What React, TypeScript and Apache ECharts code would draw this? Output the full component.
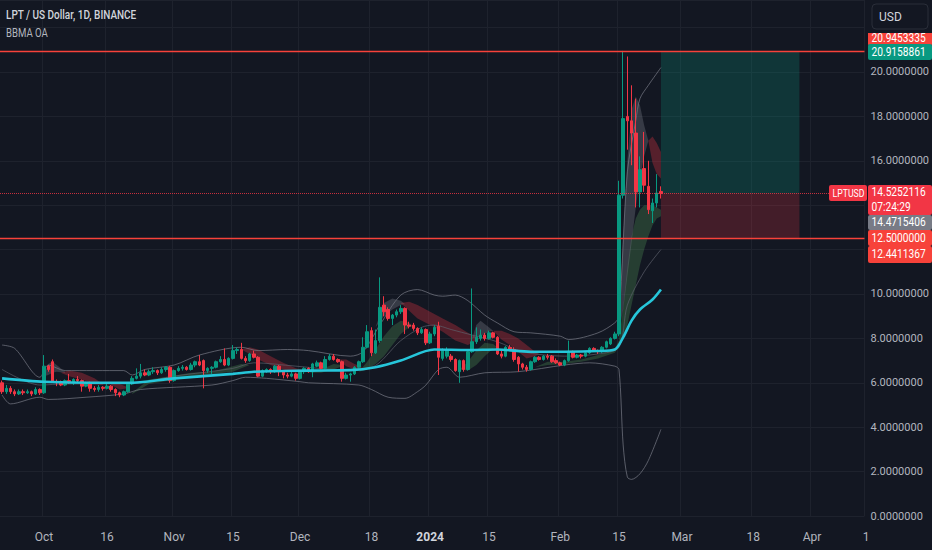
import React, { useEffect, useRef } from 'react';
import * as echarts from 'echarts';

// ---------- categories (one per day, Sep 21 2023 .. Apr 13 2024) ----------
const START_UTC = Date.UTC(2023, 8, 21);
const DAY_MS = 86400000;
const CATEGORY_COUNT = 206;
const dates: string[] = Array.from({ length: CATEGORY_COUNT }, (_, i) =>
  new Date(START_UTC + i * DAY_MS).toISOString().slice(0, 10)
);

// ---------- time axis tick labels ----------
const tickDates = ['2023-10-01', '2023-10-16', '2023-11-01', '2023-11-15', '2023-12-01', '2023-12-18', '2024-01-01', '2024-01-15', '2024-02-01', '2024-02-15', '2024-03-01', '2024-03-18', '2024-04-01'];
const tickTexts = ['Oct', '16', 'Nov', '15', 'Dec', '18', '2024', '15', 'Feb', '15', 'Mar', '18', 'Apr'];

// ---------- price axis ----------
const priceMin = 0;
const priceMax = 23.243;
const priceStep = 2;
const hiddenPriceTicks = [12, 14, 22];

// ---------- candles [open, close, low, high], one per day from Sep 21 ----------
const candles: number[][] = [
  [6.0, 5.6, 5.5, 6.1], [5.6, 5.75, 5.5, 5.9], [5.75, 5.6, 5.5, 5.85], [5.6, 5.5, 5.4, 5.7], [5.5, 5.6, 5.45, 5.7],
  [5.6, 5.55, 5.45, 5.7], [5.55, 5.6, 5.5, 5.7], [5.6, 5.5, 5.4, 5.65], [5.5, 5.7, 5.45, 5.8], [5.7, 5.55, 5.45, 5.75],
  [5.55, 6.75, 5.5, 7.25], [6.75, 6.6, 6.5, 6.8], [6.95, 6.05, 6.0, 7.05], [6.05, 6.0, 5.85, 6.15], [6.0, 5.9, 5.85, 6.1],
  [5.9, 6.1, 5.85, 6.15], [6.1, 6.0, 5.95, 6.4], [6.0, 6.15, 5.9, 6.2], [6.15, 6.1, 6.0, 6.3], [6.1, 5.85, 5.6, 6.15],
  [5.85, 6.0, 5.8, 6.05], [6.0, 5.75, 5.6, 6.05], [5.75, 5.7, 5.6, 5.85], [5.7, 5.8, 5.6, 5.9], [5.8, 5.75, 5.65, 5.85],
  [5.75, 5.85, 5.7, 5.95], [5.85, 5.7, 5.6, 5.9], [5.7, 5.55, 5.4, 5.75], [5.55, 5.45, 5.35, 5.6], [5.45, 5.6, 5.4, 5.65],
  [5.6, 5.95, 5.55, 6.0], [5.95, 6.2, 5.9, 6.3], [6.2, 6.3, 6.15, 6.65], [6.3, 6.45, 6.2, 6.85], [6.45, 6.35, 6.3, 6.6],
  [6.35, 6.5, 6.3, 6.6], [6.5, 6.55, 6.4, 6.7], [6.55, 6.45, 6.35, 6.6], [6.45, 6.6, 6.4, 6.7], [6.6, 6.7, 6.5, 6.75],
  [6.7, 6.1, 6.0, 6.75], [6.1, 6.55, 6.05, 6.6], [6.55, 6.65, 6.5, 6.75], [6.65, 6.7, 6.55, 6.8], [6.7, 6.6, 6.55, 6.75],
  [6.6, 6.8, 6.55, 6.9], [6.8, 6.95, 6.7, 7.0], [6.95, 6.8, 6.75, 7.25], [7.0, 6.55, 5.75, 7.05], [6.55, 6.65, 6.45, 6.7],
  [6.65, 6.7, 6.4, 6.75], [6.7, 6.95, 6.65, 7.0], [6.95, 7.05, 6.9, 7.2], [7.05, 6.8, 6.75, 7.55], [6.8, 7.1, 6.75, 7.15],
  [7.1, 7.45, 7.05, 7.7], [7.45, 7.5, 7.3, 7.6], [7.5, 7.1, 7.05, 7.8], [7.1, 7.0, 6.9, 7.2], [7.0, 7.3, 6.95, 7.35],
  [7.3, 7.15, 7.1, 7.45], [7.15, 6.3, 6.25, 7.2], [6.3, 6.55, 6.25, 6.6], [6.55, 6.6, 6.45, 6.65], [6.6, 6.5, 6.4, 6.65],
  [6.5, 6.75, 6.45, 6.8], [6.75, 6.5, 6.3, 6.8], [6.5, 6.35, 6.2, 6.55], [6.35, 6.3, 6.2, 6.45], [6.3, 6.4, 6.25, 6.5],
  [6.4, 6.2, 6.1, 6.45], [6.2, 6.5, 6.15, 6.55], [6.5, 6.65, 6.4, 6.7], [6.65, 6.5, 6.45, 6.7], [6.5, 6.85, 6.25, 6.9],
  [6.75, 6.9, 6.7, 7.0], [6.9, 6.65, 6.6, 6.95], [6.65, 7.05, 6.6, 7.2], [7.05, 7.2, 7.0, 7.3], [7.2, 7.05, 7.0, 7.3],
  [7.05, 6.95, 6.9, 7.1], [6.95, 6.2, 6.05, 7.0], [6.2, 6.35, 6.15, 6.45], [6.35, 6.4, 6.05, 6.45], [6.4, 6.7, 6.35, 6.75],
  [6.7, 6.95, 6.65, 7.0], [6.95, 7.6, 6.9, 8.05], [7.6, 8.3, 7.55, 8.6], [8.35, 7.35, 7.2, 8.5], [7.35, 7.9, 7.3, 8.4],
  [7.9, 9.4, 7.8, 10.75], [9.5, 9.2, 9.0, 9.9], [9.3, 8.9, 8.8, 9.4], [8.9, 9.05, 8.6, 9.1], [9.05, 9.2, 8.95, 9.3],
  [9.2, 9.35, 9.1, 9.5], [9.35, 8.6, 8.2, 9.4], [8.6, 8.55, 8.45, 8.75], [8.6, 8.45, 8.35, 8.7], [8.45, 8.25, 8.15, 8.5],
  [8.25, 8.4, 8.2, 8.5], [8.4, 7.8, 7.7, 8.45], [7.8, 8.2, 7.75, 8.3], [8.2, 8.5, 8.1, 8.6], [8.55, 7.15, 6.35, 8.75],
  [7.1, 7.45, 7.0, 7.55], [7.2, 7.5, 7.1, 7.6], [7.2, 7.05, 6.95, 7.3], [7.05, 6.55, 6.5, 7.1], [6.5, 7.0, 6.0, 7.05],
  [7.0, 6.6, 6.5, 7.05], [6.6, 7.4, 6.55, 7.5], [7.4, 7.85, 7.35, 10.25], [7.85, 8.05, 7.75, 8.5], [8.0, 8.15, 7.9, 8.4],
  [8.15, 8.0, 7.9, 8.25], [8.0, 8.25, 7.95, 8.35], [8.25, 8.05, 8.0, 8.3], [8.05, 7.3, 7.25, 8.1], [7.3, 7.2, 7.1, 7.45],
  [7.2, 7.6, 7.15, 7.65], [7.6, 7.5, 7.45, 7.7], [7.5, 7.05, 6.95, 7.6], [7.15, 6.85, 6.5, 7.2], [6.85, 6.7, 6.6, 6.9],
  [6.7, 6.6, 6.5, 6.8], [6.6, 6.95, 6.55, 7.0], [6.95, 7.15, 6.9, 7.2], [7.15, 7.05, 7.0, 7.2], [7.05, 7.2, 7.0, 7.25],
  [7.2, 7.15, 7.05, 7.3], [7.2, 6.95, 6.9, 7.25], [7.0, 6.9, 6.85, 7.1], [6.9, 6.8, 6.75, 6.95], [6.8, 7.0, 6.75, 7.05],
  [7.0, 7.4, 6.95, 7.9], [7.4, 7.15, 7.1, 7.45], [7.15, 7.25, 7.1, 7.3], [7.25, 7.2, 7.1, 7.3], [7.2, 7.35, 7.15, 7.4],
  [7.35, 7.55, 7.3, 7.6], [7.55, 7.45, 7.4, 7.6], [7.45, 7.4, 7.3, 7.5], [7.4, 7.6, 7.35, 7.65], [7.6, 7.85, 7.55, 7.9],
  [7.75, 8.0, 7.7, 8.05], [8.0, 8.2, 7.95, 8.3], [8.2, 14.45, 8.1, 15.1], [14.45, 17.9, 14.3, 20.95], [18.0, 17.8, 16.5, 20.7],
  [17.8, 17.25, 15.8, 19.4], [17.25, 14.6, 13.9, 18.8], [14.6, 15.6, 13.9, 16.2], [15.65, 14.9, 14.6, 17.3], [14.85, 13.8, 13.6, 16.0],
  [13.75, 14.1, 13.2, 14.3], [14.1, 14.55, 13.9, 15.4], [14.62, 14.525, 14.3, 14.85],
];

// ---------- indicator lines, [dayIndex, value] ----------
const emaLine = [[0, 6.2], [10, 6.05], [30, 6.0], [41, 6.2], [55, 6.4], [60, 6.5], [73, 6.55], [83, 6.57], [89, 6.7], [95, 7.0], [103, 7.5], [111, 7.48], [118, 7.5], [126, 7.4], [134, 7.4], [142, 7.43], [146, 7.5], [148, 8.05], [150, 8.8], [152, 9.3], [155, 9.75], [157, 10.2]];
const upperBand = [[0, 7.7], [3, 7.55], [9, 6.25], [11, 6.8], [15, 6.55], [29, 6.55], [31, 6.35], [34, 6.6], [41, 6.8], [47, 7.25], [57, 7.6], [61, 7.45], [68, 7.5], [73, 7.45], [83, 7.2], [86, 7.4], [90, 8.6], [95, 9.95], [99, 10.2], [103, 9.95], [105, 9.9], [108, 9.95], [111, 9.7], [115, 9.05], [118, 8.7], [122, 8.3], [126, 8.25], [133, 8.1], [135, 7.95], [142, 8.25], [146, 8.7], [147, 9.0], [149, 15.5], [151, 17.8], [152, 18.8], [154, 19.4], [157, 20.2]];
const middleBand = [[0, 6.6], [9, 5.9], [15, 5.95], [30, 5.95], [41, 6.3], [55, 6.65], [60, 6.9], [70, 6.75], [80, 6.6], [88, 6.7], [95, 7.9], [100, 8.5], [103, 8.6], [107, 8.4], [112, 8.15], [118, 7.85], [124, 7.4], [134, 7.2], [142, 7.3], [147, 7.6], [149, 9.5], [153, 11.0], [157, 12.0]];
const lowerBand = [[0, 5.45], [2, 5.05], [9, 5.35], [11, 5.25], [20, 5.35], [29, 5.5], [33, 5.7], [50, 5.9], [55, 6.1], [58, 6.25], [63, 6.2], [71, 6.05], [73, 6.0], [85, 5.9], [88, 5.7], [92, 5.35], [96, 5.3], [99, 5.6], [101, 5.9], [104, 6.6], [106, 6.7], [109, 6.25], [115, 6.45], [123, 6.5], [134, 6.8], [140, 6.9], [146, 6.75], [147, 6.6], [148, 3.2], [149, 1.75], [150, 1.65], [152, 1.9], [154, 2.5], [157, 3.9]];

// ---------- MA ribbons, [dayIndex, edgeA, edgeB] ----------
const ribbonOctGrey = [[10, 6.35, 6.3], [11, 6.85, 6.35], [12, 6.95, 6.45], [13, 6.8, 6.5], [15, 6.5, 6.45]];
const ribbonOctRed = [[14, 6.45, 6.45], [16, 6.3, 6.55], [19, 6.15, 6.45], [22, 5.95, 6.2], [24, 5.9, 5.95]];
const ribbonOctRed2 = [[26, 5.9, 5.95], [28, 5.7, 5.95], [30, 5.75, 5.8]];
const ribbonNovGreen = [[31, 5.55, 5.5], [35, 6.15, 5.95], [40, 6.3, 6.1], [45, 6.45, 6.25], [50, 6.5, 6.4], [55, 6.75, 6.5], [57, 6.85, 6.65], [59, 6.8, 6.8]];
const ribbonNovRed = [[57, 7.5, 7.5], [59, 7.3, 7.6], [61, 7.05, 7.5], [64, 6.8, 7.2], [67, 6.6, 6.9], [70, 6.45, 6.65], [72, 6.55, 6.55]];
const ribbonDecGreen = [[73, 6.45, 6.45], [76, 6.6, 6.45], [79, 6.85, 6.6], [81, 6.8, 6.75]];
const ribbonDecRed = [[80, 7.05, 7.05], [82, 6.75, 7.05], [84, 6.6, 6.85], [86, 6.7, 6.7]];
const ribbonDecGreen2 = [[85, 6.5, 6.5], [87, 6.95, 6.6], [89, 7.5, 6.85], [91, 8.1, 7.2], [93, 8.55, 7.7], [95, 8.8, 8.2], [97, 8.7, 8.5], [98, 8.55, 8.55]];
const ribbonDecGrey = [[89, 8.5, 8.5], [91, 9.6, 9.0], [93, 9.8, 9.3], [95, 9.7, 9.5], [96, 9.55, 9.55]];
const ribbonJanRed = [[95, 9.6, 9.6], [97, 9.25, 9.65], [99, 8.9, 9.5], [102, 8.6, 9.2], [105, 8.3, 8.9], [108, 7.9, 8.6], [111, 7.7, 8.25], [113, 7.9, 8.05], [114, 8.0, 8.0]];
const ribbonJanGrey = [[112, 8.0, 8.0], [113, 8.6, 8.05], [114, 8.8, 8.1], [116, 8.5, 8.3], [117, 8.35, 8.35]];
const ribbonJanGreen = [[109, 6.6, 6.6], [111, 6.95, 6.55], [113, 7.45, 6.8], [115, 7.8, 7.2], [117, 7.75, 7.55], [118, 7.6, 7.6]];
const ribbonJanRed2 = [[117, 8.35, 8.35], [119, 7.95, 8.35], [121, 7.7, 8.2], [123, 7.4, 8.0], [125, 7.1, 7.7], [127, 7.2, 7.4], [128, 7.3, 7.3]];
const ribbonFebGreen = [[127, 6.7, 6.7], [130, 6.95, 6.8], [134, 6.95, 6.85], [138, 7.05, 6.95], [142, 7.25, 7.1], [146, 7.55, 7.35], [147, 7.9, 7.6]];
const ribbonSpikeGreen = [[147, 7.9, 7.6], [148, 9.4, 8.0], [149, 11.2, 8.6], [150, 12.6, 9.5], [151, 13.4, 10.4], [152, 13.8, 11.3], [153, 14.0, 12.0], [154, 14.0, 12.6], [155, 14.0, 13.1], [156, 13.9, 13.4], [157, 13.8, 13.5]];
const ribbonSpikeGrey = [[147, 8.6, 8.3], [148, 12.5, 9.3], [149, 16.0, 10.8], [150, 18.3, 12.3], [151, 18.9, 13.9], [152, 18.5, 15.2], [153, 17.6, 16.2], [154, 16.9, 16.9]];
const ribbonSpikeRed = [[154, 16.9, 16.9], [155, 15.9, 17.1], [156, 15.4, 16.8], [157, 15.2, 16.4]];

// ---------- price levels ----------
const lastPrice = 14.5252116;
const targetPrice = 20.9158861;
const stopPrice = 12.5;
const positionStartIndex = 157;
const positionEndIndex = 190;

const BG = '#131722';
const GRID = '#1e222d';
const UP = '#089981';
const DOWN = '#f23645';
const LEVEL_RED = '#f7423a';
const RIBBON_RED = 'rgba(242,54,69,0.30)';
const RIBBON_GREEN = 'rgba(102,187,106,0.24)';
const RIBBON_GREY = 'rgba(120,123,134,0.35)';
const FONT = 'Roboto, "Noto Sans", sans-serif';

const ribbons = [
  { pts: ribbonOctGrey, color: RIBBON_GREY },
  { pts: ribbonOctRed, color: RIBBON_RED },
  { pts: ribbonOctRed2, color: RIBBON_RED },
  { pts: ribbonNovGreen, color: RIBBON_GREEN },
  { pts: ribbonNovRed, color: RIBBON_RED },
  { pts: ribbonDecGreen, color: RIBBON_GREEN },
  { pts: ribbonDecRed, color: RIBBON_RED },
  { pts: ribbonDecGreen2, color: RIBBON_GREEN },
  { pts: ribbonDecGrey, color: RIBBON_GREY },
  { pts: ribbonJanRed, color: RIBBON_RED },
  { pts: ribbonJanGrey, color: RIBBON_GREY },
  { pts: ribbonJanGreen, color: RIBBON_GREEN },
  { pts: ribbonJanRed2, color: RIBBON_RED },
  { pts: ribbonFebGreen, color: RIBBON_GREEN },
  { pts: ribbonSpikeGreen, color: RIBBON_GREEN },
  { pts: ribbonSpikeGrey, color: RIBBON_GREY },
  { pts: ribbonSpikeRed, color: RIBBON_RED },
];

function labelBox(x: number, y: number, w: number, h: number, fill: string, lines: string[], z = 0, size = 12, squeeze = 0.85) {
  const els: any[] = [
    { type: 'rect', z: 10 + z, shape: { x, y, width: w, height: h, r: 2 }, style: { fill } },
  ];
  const lh = h / lines.length;
  lines.forEach((t, k) => {
    els.push({
      type: 'text', z: 11 + z, x: x + 3.5, y: y + lh * k + lh / 2, scaleX: squeeze,
      style: { text: t, fill: '#ffffff', font: `${size}px ${FONT}`, verticalAlign: 'middle', textAlign: 'left' },
    });
  });
  return els;
}

function buildOption() {
  const tickSet = new Set(tickDates);
  const tickMap: Record<string, string> = {};
  tickDates.forEach((d, k) => (tickMap[d] = tickTexts[k]));

  const graphics: any[] = [
    { type: 'text', z: 5, x: 6, y: 15, scaleX: 0.8, style: { text: 'LPT / US Dollar, 1D, BINANCE', fill: '#d1d4dc', font: `500 12.5px ${FONT}`, verticalAlign: 'middle' } },
    { type: 'text', z: 5, x: 6, y: 33, scaleX: 0.8, style: { text: 'BBMA OA', fill: '#b2b5be', font: `12px ${FONT}`, verticalAlign: 'middle' } },
    ...labelBox(868, 30, 64, 16, LEVEL_RED, ['20.9453335'], 0),
    { type: 'rect', z: 20, shape: { x: 867, y: 0, width: 65, height: 33 }, style: { fill: BG } },
    { type: 'rect', z: 21, shape: { x: 872, y: 4, width: 56, height: 25, r: 4 }, style: { fill: BG, stroke: '#2a2e39', lineWidth: 1 } },
    { type: 'text', z: 22, x: 879, y: 16.5, style: { text: 'USD', fill: '#d1d4dc', font: `12px ${FONT}`, verticalAlign: 'middle' } },
    ...labelBox(868, 44, 64, 16, UP, ['20.9158861'], 12),
    ...labelBox(829, 185, 38, 16, DOWN, ['LPTUSD'], 12, 11.5, 0.76),
    ...labelBox(868, 185, 64, 30, DOWN, ['14.5252116', '07:24:29'], 12),
    ...labelBox(868, 215, 64, 15, '#787b86', ['14.4715406'], 12),
    ...labelBox(868, 230, 64, 16, LEVEL_RED, ['12.5000000'], 12),
    ...labelBox(868, 246, 64, 17, LEVEL_RED, ['12.4411367'], 12),
    { type: 'text', z: 5, x: 866, y: 537, style: { text: '1', fill: '#b2b5be', font: `12px ${FONT}`, verticalAlign: 'middle', textAlign: 'center' } },
  ];

  const line = (data: number[][], color: string, width: number, z: number, opacity = 1) => ({
    type: 'line', data, showSymbol: false, smooth: 0.3, z, silent: true,
    lineStyle: { color, width, opacity }, itemStyle: { color },
  });

  return {
    animation: false,
    backgroundColor: BG,
    grid: { left: 0, right: 66, top: 0, bottom: 34 },
    xAxis: {
      type: 'category', data: dates, boundaryGap: true,
      axisLine: { show: false }, axisTick: { show: false },
      axisLabel: {
        interval: (_i: number, v: string) => tickSet.has(v),
        formatter: (v: string) => (tickMap[v] === '2024' ? '{b|2024}' : tickMap[v] || ''),
        color: '#b2b5be', fontSize: 12, fontFamily: FONT, margin: 15,
        rich: { b: { fontWeight: 'bold', fontSize: 12, color: '#d1d4dc', fontFamily: FONT } },
      },
      splitLine: { show: true, interval: (_i: number, v: string) => tickSet.has(v), lineStyle: { color: GRID, width: 1 } },
    },
    yAxis: {
      type: 'value', position: 'right', min: priceMin, max: priceMax, interval: priceStep,
      axisLine: { show: false }, axisTick: { show: false },
      splitLine: { lineStyle: { color: GRID, width: 1 } },
      axisLabel: {
        color: '#b2b5be', fontSize: 11, fontFamily: FONT, margin: 6, showMaxLabel: false,
        formatter: (v: number) => (v % priceStep !== 0 || hiddenPriceTicks.includes(v) ? '' : v.toFixed(7)),
      },
    },
    graphic: graphics,
    series: [
      {
        type: 'custom', z: 1, silent: true, clip: true,
        data: ribbons.map((r) => [r.pts[0][0], r.pts[0][1]]),
        encode: { x: 0, y: 1 },
        renderItem: (params: any, api: any) => {
          const r = ribbons[params.dataIndex];
          const top = r.pts.map((p) => api.coord([p[0], p[1]]));
          const bot = r.pts.slice().reverse().map((p) => api.coord([p[0], p[2]]));
          return { type: 'polygon', shape: { points: top.concat(bot) }, style: { fill: r.color } };
        },
      },
      line(upperBand, '#787b86', 1, 2, 0.7),
      line(middleBand, '#5d606b', 1, 2, 0.7),
      line(lowerBand, '#787b86', 1, 2, 0.7),
      {
        type: 'candlestick', z: 3, barWidth: 3,
        data: candles,
        itemStyle: { color: UP, color0: DOWN, borderColor: UP, borderColor0: DOWN, borderWidth: 1 },
        markLine: {
          silent: true, symbol: ['none', 'none'], label: { show: false },
          lineStyle: { color: LEVEL_RED, width: 1.3, type: 'solid' },
          emphasis: { disabled: true },
          data: [
            { yAxis: targetPrice, lineStyle: { color: LEVEL_RED, width: 1.3, type: 'solid', opacity: 1 } },
            { yAxis: stopPrice, lineStyle: { color: LEVEL_RED, width: 1.3, type: 'solid', opacity: 1 } },
            { yAxis: lastPrice, lineStyle: { color: DOWN, width: 1, type: 'dotted', opacity: 0.8 } },
          ],
        },
        markArea: {
          silent: true, label: { show: false },
          data: [
            [{ coord: [positionStartIndex, targetPrice], itemStyle: { color: 'rgba(8,153,129,0.24)' } }, { coord: [positionEndIndex, lastPrice] }],
            [{ coord: [positionStartIndex, lastPrice], itemStyle: { color: 'rgba(242,54,69,0.22)' } }, { coord: [positionEndIndex, stopPrice] }],
          ],
        },
      },
      line(emaLine, '#26c6da', 2.6, 4),
    ],
  };
}

export default function App() {
  const ref = useRef<HTMLDivElement>(null);
  useEffect(() => {
    if (!ref.current) return;
    const chart = echarts.init(ref.current, undefined, { renderer: 'svg' });
    chart.setOption(buildOption() as any);
    return () => chart.dispose();
  }, []);
  return (
    <div
      ref={ref}
      style={{ position: 'fixed', left: 0, top: 0, width: 932, height: 550, background: BG }}
    />
  );
}
